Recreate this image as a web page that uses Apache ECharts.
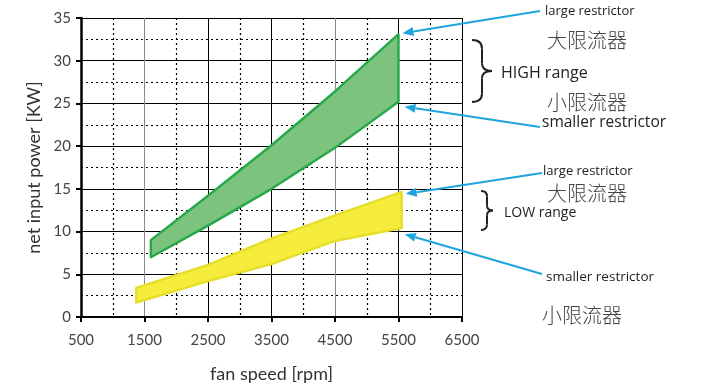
<!DOCTYPE html>
<html><head><meta charset="utf-8">
<script src="https://cdn.jsdelivr.net/npm/echarts@6/dist/echarts.min.js"></script>
<style>html,body{margin:0;padding:0;background:#fff}#c{width:711px;height:388px}</style>
</head><body><div id="c"></div>
<script>
// Data
const xTicks = [500, 1500, 2500, 3500, 4500, 5500, 6500];
const yTicks = [0, 5, 10, 15, 20, 25, 30, 35];
const highSpeed = [1600, 2500, 3500, 4500, 5500];
const highUpper = [9.0, 14.2, 20.1, 26.4, 33.1];
const highLower = [7.0, 10.7, 15.0, 19.8, 25.2];
const lowSpeed = [1370, 2500, 3500, 4500, 5550];
const lowUpper = [3.4, 6.1, 9.2, 11.9, 14.65];
const lowLower = [1.7, 4.2, 6.2, 8.9, 10.4];

const chart = echarts.init(document.getElementById('c'), null, {renderer: 'canvas'});
const axisFont = 'Lato, "DejaVu Sans", sans-serif';

function bandSeries(xs, up, lo, fill, stroke) {
  return {
    type: 'custom',
    data: xs.map((x, i) => [x, up[i]]),
    renderItem: function (params, api) {
      if (params.dataIndex !== 0) return null;
      const pts = [];
      for (let i = 0; i < xs.length; i++) pts.push(api.coord([xs[i], up[i]]));
      for (let i = xs.length - 1; i >= 0; i--) pts.push(api.coord([xs[i], lo[i]]));
      return {type: 'polygon', shape: {points: pts},
        style: {fill: fill, stroke: stroke, lineWidth: 2.4, lineJoin: 'round'}};
    },
    z: 5
  };
}

chart.setOption({
  animation: false,
  grid: {left: 81, right: 249, top: 18, bottom: 70},
  xAxis: {
    type: 'value', min: xTicks[0], max: xTicks[xTicks.length - 1], interval: 1000,
    name: 'fan speed [rpm]', nameLocation: 'middle', nameGap: 48,
    nameTextStyle: {fontFamily: axisFont, fontSize: 18, color: '#333'},
    axisLine: {lineStyle: {color: '#000', width: 2}},
    axisTick: {show: true, length: 5, lineStyle: {color: '#000', width: 2}},
    axisLabel: {fontFamily: axisFont, fontSize: 15, color: '#444', margin: 16, formatter: v => String(v)},
    splitLine: {show: true, lineStyle: {color: ['#000', '#888', '#000', '#000', '#888', '#000', '#000'], width: 1}},
    minorTick: {show: true, splitNumber: 2, length: 0},
    minorSplitLine: {show: true, lineStyle: {color: '#000', width: 1.2, type: [2, 3]}}
  },
  yAxis: {
    type: 'value', min: yTicks[0], max: yTicks[yTicks.length - 1], interval: 5,
    name: 'net input power [KW]', nameLocation: 'middle', nameGap: 38,
    nameTextStyle: {fontFamily: axisFont, fontSize: 18, color: '#333'},
    axisLine: {show: true, lineStyle: {color: '#000', width: 2.5}},
    axisTick: {show: true, length: 5, lineStyle: {color: '#000', width: 2}},
    axisLabel: {fontFamily: axisFont, fontSize: 15, color: '#444', margin: 10, formatter: v => String(v)},
    splitLine: {show: true, lineStyle: {color: '#000', width: 1}},
    minorTick: {show: true, splitNumber: 2, length: 0},
    minorSplitLine: {show: true, lineStyle: {color: '#000', width: 1.2, type: [2, 3]}}
  },
  series: [
    bandSeries(highSpeed, highUpper, highLower, '#7cc47e', '#26a84a'),
    bandSeries(lowSpeed, lowUpper, lowLower, '#f6ec3c', '#e6df2a')
  ]
});

// annotations
const enFont = '"Open Sans", "Noto Sans", sans-serif';
const cnFont = '"Noto Sans CJK SC", sans-serif';
const arrowColor = '#1ea5e0';
function txt(x, y, s, size, fam, color, weight) {
  return {type: 'text', x: x, y: y, z: 10,
    style: {text: s, fontSize: size, fontFamily: fam, fill: color || '#222', fontWeight: weight || 'normal',
      verticalAlign: 'middle', align: 'left'}};
}
function arrow(x1, y1, x2, y2) {
  const a = Math.atan2(y2 - y1, x2 - x1), L = 11, W = 4.5;
  const bx = x2 - L * Math.cos(a), by = y2 - L * Math.sin(a);
  const nx = -Math.sin(a), ny = Math.cos(a);
  return [
    {type: 'line', z: 10, shape: {x1: x1, y1: y1, x2: bx, y2: by}, style: {stroke: arrowColor, lineWidth: 2}},
    {type: 'polygon', z: 10, shape: {points: [[x2, y2], [bx + nx * W, by + ny * W], [bx - nx * W, by - ny * W]]}, style: {fill: arrowColor}}
  ];
}
function brace(x, y1, y2, w) {
  const ym = (y1 + y2) / 2, h = y2 - y1, xm = x + w / 2;
  const st = {stroke: '#222', lineWidth: 2, fill: null};
  return [
    {type: 'bezierCurve', z: 10, shape: {x1: x, y1: y1, cpx1: xm, cpy1: y1, x2: xm, y2: y1 + h * 0.14}, style: st},
    {type: 'line', z: 10, shape: {x1: xm, y1: y1 + h * 0.14, x2: xm, y2: ym - h * 0.12}, style: st},
    {type: 'bezierCurve', z: 10, shape: {x1: xm, y1: ym - h * 0.12, cpx1: xm, cpy1: ym, x2: x + w, y2: ym}, style: st},
    {type: 'bezierCurve', z: 10, shape: {x1: x + w, y1: ym, cpx1: xm, cpy1: ym, x2: xm, y2: ym + h * 0.12}, style: st},
    {type: 'line', z: 10, shape: {x1: xm, y1: ym + h * 0.12, x2: xm, y2: y2 - h * 0.14}, style: st},
    {type: 'bezierCurve', z: 10, shape: {x1: xm, y1: y2 - h * 0.14, cpx1: xm, cpy1: y2, x2: x, y2: y2}, style: st}
  ];
}
const nH = highSpeed.length - 1, nL = lowSpeed.length - 1;
const pHU = chart.convertToPixel({gridIndex: 0}, [highSpeed[nH], highUpper[nH]]);
const pHL = chart.convertToPixel({gridIndex: 0}, [highSpeed[nH], highLower[nH]]);
const pLU = chart.convertToPixel({gridIndex: 0}, [lowSpeed[nL], lowUpper[nL]]);
const pLL = chart.convertToPixel({gridIndex: 0}, [lowSpeed[nL], lowLower[nL]]);

const g = [].concat(
  arrow(540, 11, pHU[0] + 4, pHU[1] - 1),
  arrow(540, 127, pHL[0] + 6, pHL[1] + 5),
  arrow(542, 173, pLU[0] + 4, pLU[1] + 2),
  arrow(542, 274, pLL[0] + 3, pLL[1] + 6),
  brace(472, 40, 102, 20),
  brace(481, 191, 230, 12),
  [
    txt(545, 11, 'large restrictor', 13, enFont),
    txt(547, 40, '大限流器', 20, cnFont, '#444', 300),
    txt(501, 73, 'HIGH range', 16, enFont),
    txt(547, 102, '小限流器', 20, cnFont, '#444', 300),
    txt(542, 123, 'smaller restrictor', 15.5, enFont),
    txt(543, 171, 'large restrictor', 13, enFont),
    txt(547, 193, '大限流器', 20, cnFont, '#444', 300),
    txt(504, 213, 'LOW range', 14, enFont),
    txt(546, 277, 'smaller restrictor', 13.5, enFont),
    txt(542, 315, '小限流器', 20, cnFont, '#444', 300)
  ]
);
chart.setOption({graphic: g});
</script>
</body></html>
